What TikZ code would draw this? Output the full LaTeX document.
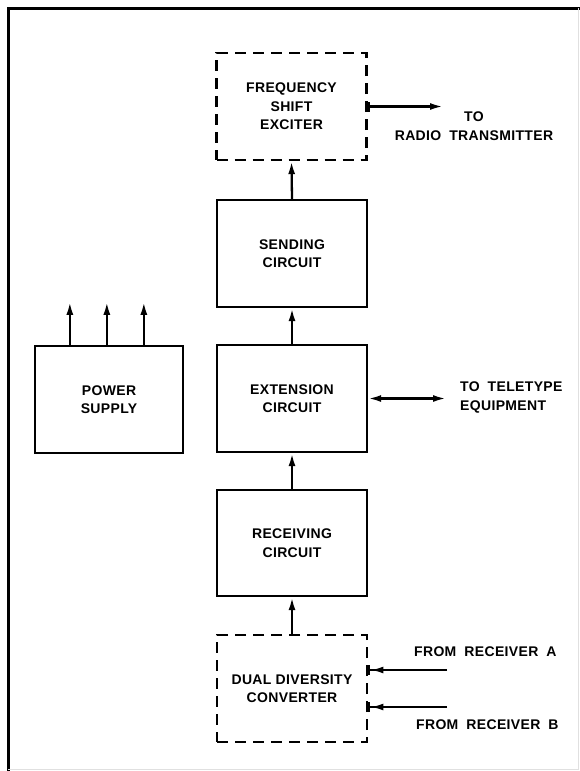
\documentclass[tikz,border=0pt]{standalone}
\usepackage{fontspec}
\setmainfont{Liberation Sans}[LetterSpace=2.5]
\usetikzlibrary{arrows.meta}
\tikzset{
  every picture/.style={font={\bfseries\fontsize{14}{18.5}\selectfont}, line width=2.3pt},
  blk/.style={draw, align=center, minimum width=150pt, minimum height=107pt, inner sep=0pt},
  dblk/.style={blk, dash pattern=on 11pt off 7pt},
  arr/.style={-{Latex[length=13pt, width=7pt]}},
  lbl/.style={inner sep=0pt, font={\bfseries\fontsize{14}{18.5}\selectfont\spaceskip=8pt\relax}},
}

\begin{document}
\begin{tikzpicture}[x=1pt, y=-1pt,
    barr/.style={{Bar[width=10pt]}-{Latex[length=13pt, width=7pt]}},
    inarr/.style={-{Latex[length=13pt, width=7pt] Bar[width=10pt]}}]
  \useasboundingbox (0,0) rectangle (580,771);
  \draw[line width=3pt] (8,771) -- (8,8) -- (580,8);
  \draw[black!12, line width=1pt] (8,769) -- (578,769) -- (578,8);
  \node[dblk] (fse) at (291.5,106.5) {FREQUENCY\\SHIFT\\EXCITER};
  \node[blk] (send) at (292,253.5) {SENDING\\CIRCUIT};
  \node[blk] (ext) at (292,398.5) {EXTENSION\\CIRCUIT};
  \node[blk, minimum height=106pt] (recv) at (292,543) {RECEIVING\\CIRCUIT};
  \node[dblk] (ddc) at (292,688.5) {DUAL DIVERSITY\\CONVERTER};
  \node[blk, minimum width=148pt] (psu) at (109,399.5) {POWER\\SUPPLY};
  \node[lbl, align=center] (rtl) at (474,126) {TO\\RADIO TRANSMITTER};
  \node[lbl, align=left, anchor=west] (ttl) at (459,397.5) {TO TELETYPE\\EQUIPMENT};
  \node[lbl, anchor=west] (fra) at (413,652) {FROM RECEIVER A};
  \node[lbl, anchor=west] (frb) at (415,725) {FROM RECEIVER B};
  \coordinate (rt) at (443,106.5);
  \coordinate (tt) at (446,398.5);
  \coordinate (ra) at (447,670);
  \coordinate (rb) at (447,707);
  \draw[arr] (send.north) -- (fse.south);
  \draw[arr] (ext.north) -- (send.south);
  \draw[arr] (recv.north) -- (ext.south);
  \draw[arr] (ddc.north) -- (recv.south);
  \draw[barr] (fse.east) -- (rt);
  \draw[{Latex[length=13pt, width=7pt]}-{Latex[length=13pt, width=7pt]}] (ext.east) -- (tt);
  \draw[inarr] (ra) -- (ra -| ddc.east);
  \draw[inarr] (rb) -- (rb -| ddc.east);
  \foreach \d in {36,73,110}
    \draw[arr] ([xshift=\d pt]psu.north west) -- ++(0,-43);
\end{tikzpicture}
\end{document}
